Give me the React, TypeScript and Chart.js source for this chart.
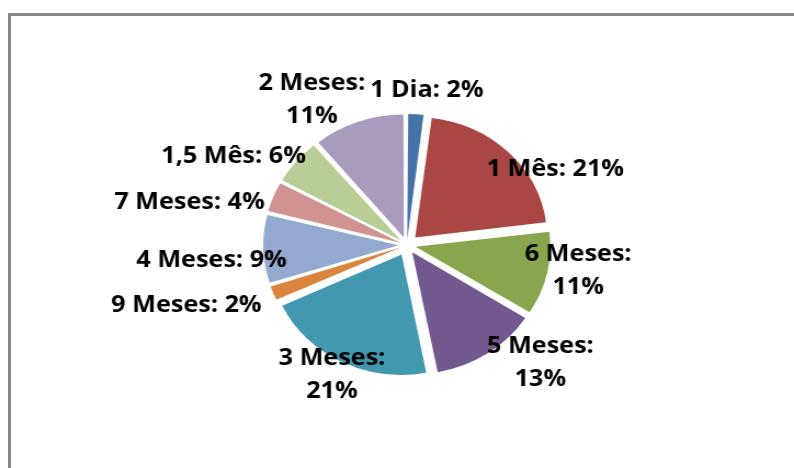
import React, { useEffect, useRef } from "react";
import { Chart, registerables } from "chart.js";

Chart.register(...registerables);

const categories = [
  "1 Dia",
  "1 Mês",
  "6 Meses",
  "5 Meses",
  "3 Meses",
  "9 Meses",
  "4 Meses",
  "7 Meses",
  "1,5 Mês",
  "2 Meses",
];
const values = [2, 21, 11, 13, 21, 2, 9, 4, 6, 11];
const colors = [
  "#4572A7",
  "#AA4643",
  "#89A54E",
  "#71588F",
  "#4198AF",
  "#DB843D",
  "#93A9CF",
  "#D19392",
  "#B9CD96",
  "#A99BBD",
];
// label placement: angle shift from slice middle (deg), distance as multiple of radius, wrap to two lines
const labelShift = [3.1, 16, -3, -11.8, 0.8, 4.8, -3.2, -9.4, -10.3, -11];
const labelDist = [1.3, 1.29, 1.32, 1.41, 1.22, 1.75, 1.49, 1.69, 1.51, 1.41];
const labelWrap = [false, false, true, true, true, false, false, false, false, true];

const STRETCH = 794 / 724;
const EXPLODE = 11;

const total = values.reduce((a, b) => a + b, 0);

// Chart.js arcs move by offset/4 * (1 + fix); choose per-slice offset so every slice moves EXPLODE px
function sliceOffset(ctx: any) {
  const i = ctx.dataIndex;
  if (i === undefined || i === null) return 0;
  const angle = (values[i] / total) * Math.PI * 2;
  const fix = 1 - Math.sin(Math.min(Math.PI, angle));
  return (4 * EXPLODE) / (1 + fix);
}

const labelPlugin = {
  id: "pieLabels",
  afterDatasetsDraw(chart: any) {
    const ctx = chart.ctx;
    const meta = chart.getDatasetMeta(0);
    ctx.save();
    ctx.fillStyle = "#000";
    ctx.font = "700 23px 'Open Sans'";
    ctx.textAlign = "center";
    ctx.textBaseline = "middle";
    meta.data.forEach((arc: any, i: number) => {
      const p = arc.getProps(["x", "y", "startAngle", "endAngle", "outerRadius"], true);
      const mid = (p.startAngle + p.endAngle) / 2 + (labelShift[i] * Math.PI) / 180;
      const r = p.outerRadius * labelDist[i];
      const lx = p.x + Math.cos(mid) * r;
      const ly = p.y + Math.sin(mid) * r;
      const pct = Math.round((values[i] / total) * 100) + "%";
      if (labelWrap[i]) {
        ctx.fillText(categories[i] + ":", lx, ly - 16.5);
        ctx.fillText(pct, lx, ly + 16.5);
      } else {
        ctx.fillText(categories[i] + ": " + pct, lx, ly);
      }
    });
    ctx.restore();
  },
};

export default function App() {
  const ref = useRef<HTMLCanvasElement | null>(null);
  useEffect(() => {
    if (!ref.current) return;
    const chart = new Chart(ref.current, {
      type: "pie",
      data: {
        labels: categories,
        datasets: [
          {
            data: values,
            backgroundColor: colors,
            borderWidth: 0,
            offset: sliceOffset,
          },
        ],
      },
      options: {
        responsive: false,
        animation: false,
        radius: 120,
        events: [],
        layout: { padding: { left: 18, top: 22, right: 0, bottom: 0 } },
        plugins: {
          legend: { display: false },
          tooltip: { enabled: false },
        },
      } as any,
      plugins: [labelPlugin],
    });
    return () => chart.destroy();
  }, []);
  return (
    <div
      style={{
        position: "fixed",
        left: 0,
        top: 0,
        width: 794,
        height: 468,
        overflow: "hidden",
        background: "#fff",
      }}
    >
      <div
        style={{
          position: "absolute",
          left: 8,
          top: 13,
          width: 900,
          height: 600,
          border: "3px solid #898989",
          boxSizing: "border-box",
        }}
      />
      <canvas
        ref={ref}
        width={724}
        height={468}
        style={{
          position: "absolute",
          left: 0,
          top: 0,
          width: 724,
          height: 468,
          display: "block",
          transform: `scaleX(${STRETCH})`,
          transformOrigin: "0 0",
        }}
      />
    </div>
  );
}
